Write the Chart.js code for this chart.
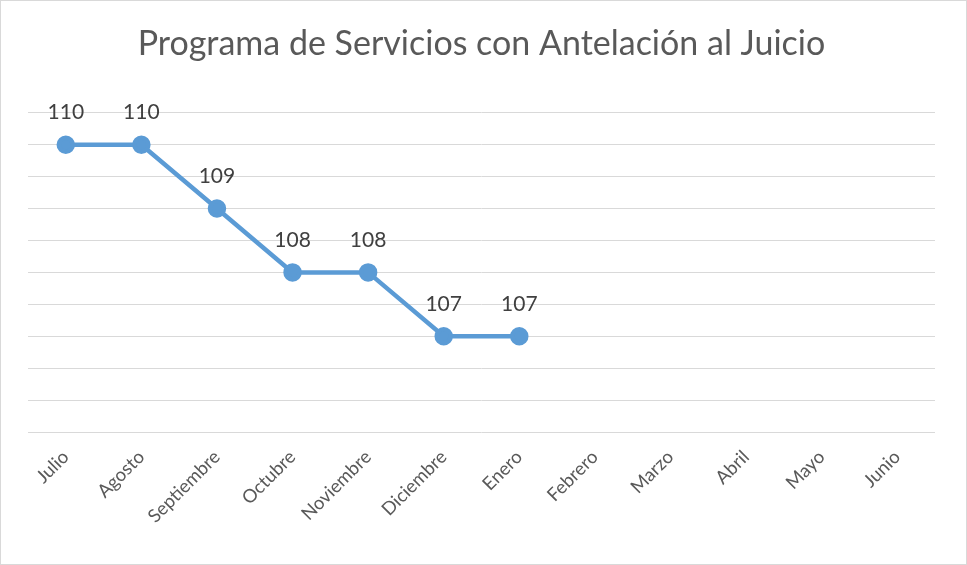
<!DOCTYPE html>
<html>
<head>
<meta charset="utf-8">
<script src="https://cdn.jsdelivr.net/npm/chart.js@4.4.1/dist/chart.umd.min.js"></script>
<style>
  html, body { margin: 0; padding: 0; background: #fff; }
  #wrap { position: relative; width: 967px; height: 565px; box-sizing: border-box; border: 1px solid #d9d9d9; }
  canvas { display: block; }
</style>
</head>
<body>
<div id="wrap"><canvas id="chart" width="965" height="563"></canvas></div>
<script>
const months = ["Julio", "Agosto", "Septiembre", "Octubre", "Noviembre", "Diciembre", "Enero", "Febrero", "Marzo", "Abril", "Mayo", "Junio"];
const casos = [110, 110, 109, 108, 108, 107, 107, null, null, null, null, null];

const chartTitle = "Programa de Servicios con Antelación al Juicio";
const lineColor = "#5b9bd5";
const fontFamily = "Lato, 'Open Sans', sans-serif";

// draws the value above each point, like excel data labels
const valueLabels = {
  id: "valueLabels",
  afterDatasetsDraw(chart) {
    const ctx = chart.ctx;
    const meta = chart.getDatasetMeta(0);
    ctx.save();
    ctx.font = "21px " + fontFamily;
    ctx.fillStyle = "#404040";
    ctx.textAlign = "center";
    ctx.textBaseline = "middle";
    meta.data.forEach((pt, i) => {
      const v = casos[i];
      if (v == null) return;
      ctx.fillText(String(v), pt.x, pt.y - 32);
    });
    ctx.restore();
  }
};

new Chart(document.getElementById("chart").getContext("2d"), {
  type: "line",
  data: {
    labels: months,
    datasets: [{
      data: casos,
      borderColor: lineColor,
      backgroundColor: lineColor,
      borderWidth: 4.5,
      pointRadius: 7,
      pointHoverRadius: 7,
      pointBackgroundColor: lineColor,
      pointBorderColor: lineColor,
      fill: false,
      tension: 0,
      spanGaps: false
    }]
  },
  options: {
    responsive: false,
    animation: false,
    layout: {
      padding: { left: 27, right: 31, top: 0, bottom: 0 }
    },
    plugins: {
      legend: { display: false },
      tooltip: { enabled: false },
      title: {
        display: true,
        text: chartTitle,
        color: "#595959",
        font: { family: fontFamily, size: 34, weight: "normal" },
        padding: { top: 23, bottom: 48 }
      }
    },
    scales: {
      x: {
        offset: true,
        grid: { display: false },
        border: { display: false },
        ticks: {
          color: "#595959",
          font: { family: fontFamily, size: 18.5 },
          minRotation: 45,
          maxRotation: 45,
          autoSkip: false,
          padding: 6
        },
        afterFit(scale) { scale.height = 132; }
      },
      y: {
        min: 105.5,
        max: 110.5,
        grid: { color: "#d9d9d9", lineWidth: 1, drawTicks: false },
        border: { display: false },
        ticks: { display: false, stepSize: 0.5 }
      }
    }
  },
  plugins: [valueLabels]
});
</script>
</body>
</html>
